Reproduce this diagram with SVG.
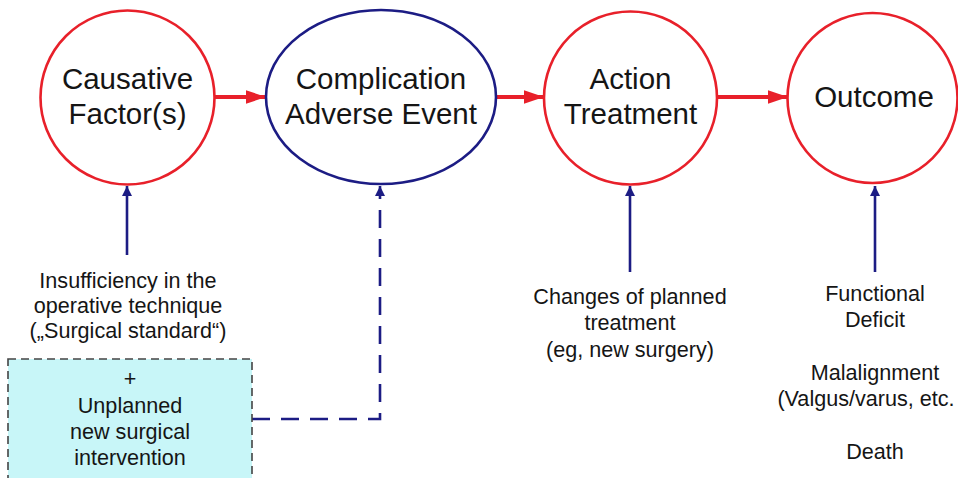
<svg xmlns="http://www.w3.org/2000/svg" width="958" height="478" viewBox="0 0 958 478">
  <style>
    .node-red { fill: #ffffff; stroke: #e8202a; stroke-width: 2.6; }
    .node-blue { fill: #ffffff; stroke: #1c1c84; stroke-width: 2.6; }
    .big { font-family: "Liberation Sans", Arial, sans-serif; font-size: 29.5px; fill: #151515; text-anchor: middle; }
    .small { font-family: "Liberation Sans", Arial, sans-serif; font-size: 21.6px; fill: #151515; text-anchor: middle; }
    .flow { stroke: #e8202a; stroke-width: 4; fill: none; }
    .link { stroke: #1c1c84; stroke-width: 2.6; fill: none; }
    .link-dash { stroke: #1c1c84; stroke-width: 2.6; fill: none; stroke-dasharray: 18 11; }
    .box { fill: #c8f6f8; stroke: #444444; stroke-width: 1.6; stroke-dasharray: 8 5; }
  </style>
  <defs>
    <marker id="redHead" markerWidth="5" markerHeight="3.4" refX="5" refY="1.7" orient="auto" markerUnits="strokeWidth">
      <path d="M0,0 L5,1.7 L0,3.4 Z" fill="#e8202a"/>
    </marker>
    <marker id="blueHead" markerWidth="4" markerHeight="4" refX="4" refY="2" orient="auto" markerUnits="strokeWidth">
      <path d="M0,0 L4,2 L0,4 Z" fill="#1c1c84"/>
    </marker>
  </defs>

  <rect width="958" height="478" fill="#ffffff"/>

  <!-- connectors -->
  <g id="connectors">
    <line class="flow" x1="215" y1="97" x2="266" y2="97" marker-end="url(#redHead)"/>
    <line class="flow" x1="496" y1="97" x2="544" y2="97" marker-end="url(#redHead)"/>
    <line class="flow" x1="717" y1="97" x2="788" y2="97" marker-end="url(#redHead)"/>
    <line class="link" x1="127" y1="255" x2="127" y2="186" marker-end="url(#blueHead)"/>
    <path class="link-dash" d="M252,419 H380 V186" marker-end="url(#blueHead)"/>
    <line class="link" x1="630" y1="272" x2="630" y2="186" marker-end="url(#blueHead)"/>
    <line class="link" x1="875" y1="272" x2="875" y2="186" marker-end="url(#blueHead)"/>
  </g>

  <!-- flow nodes -->
  <g id="causative">
    <circle class="node-red" cx="127.5" cy="97.5" r="87"/>
    <text class="big" x="127.5" y="89">Causative</text>
    <text class="big" x="127.5" y="124">Factor(s)</text>
  </g>
  <g id="complication">
    <ellipse class="node-blue" cx="381" cy="97" rx="115" ry="87"/>
    <text class="big" x="381" y="89">Complication</text>
    <text class="big" x="381" y="124">Adverse Event</text>
  </g>
  <g id="action">
    <circle class="node-red" cx="630.5" cy="98" r="86.5"/>
    <text class="big" x="630.5" y="89">Action</text>
    <text class="big" x="630.5" y="124">Treatment</text>
  </g>
  <g id="outcome">
    <circle class="node-red" cx="872.5" cy="98" r="85"/>
    <text class="big" x="874" y="107">Outcome</text>
  </g>

  <!-- annotations -->
  <g id="technique">
    <text class="small" x="128" y="288">Insufficiency in the</text>
    <text class="small" x="128" y="313">operative technique</text>
    <text class="small" x="128" y="338">(„Surgical standard“)</text>
  </g>
  <g id="unplanned">
    <rect class="box" x="8" y="359" width="244" height="130"/>
    <text class="small" x="130" y="386">+</text>
    <text class="small" x="130" y="413">Unplanned</text>
    <text class="small" x="130" y="439">new surgical</text>
    <text class="small" x="130" y="465">intervention</text>
  </g>
  <g id="changes">
    <text class="small" x="630" y="304">Changes of planned</text>
    <text class="small" x="630" y="330">treatment</text>
    <text class="small" x="630" y="357">(eg, new surgery)</text>
  </g>
  <g id="results">
    <text class="small" x="875" y="301">Functional</text>
    <text class="small" x="875" y="327">Deficit</text>
    <text class="small" x="875" y="380">Malalignment</text>
    <text class="small" x="866" y="406">(Valgus/varus, etc.</text>
    <text class="small" x="875" y="459">Death</text>
  </g>
</svg>
